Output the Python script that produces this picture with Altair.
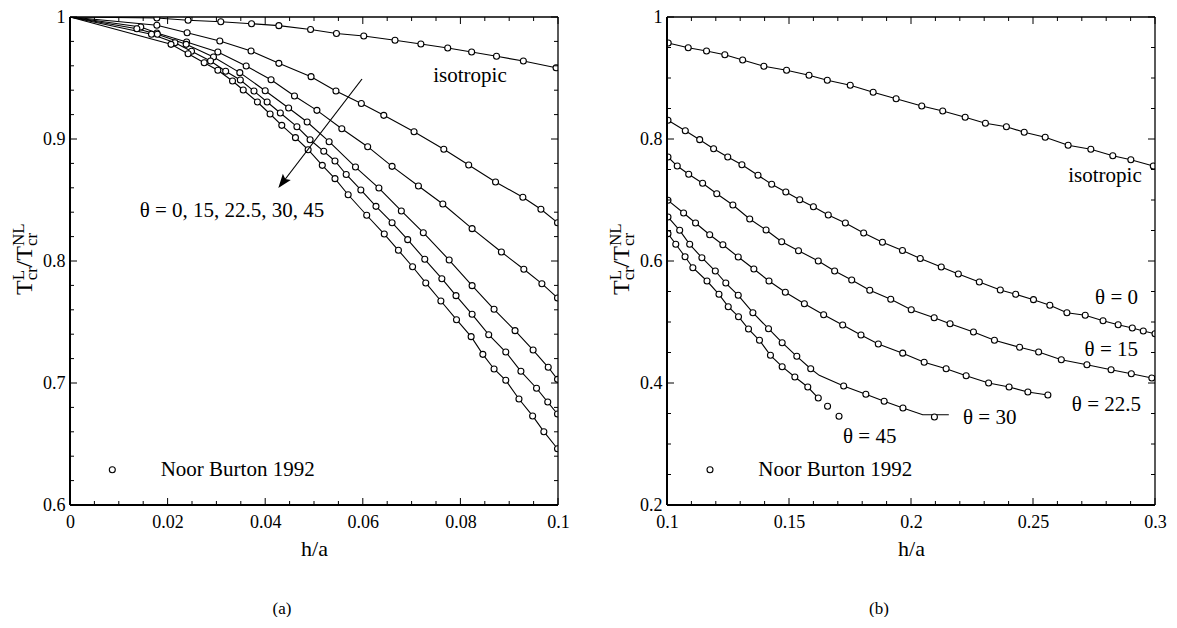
import altair as alt
import pandas as pd

FONT = "Liberation Serif"
W = 488
H = 488

# ---------------- panel (a): h/a from 0 to 0.1 ----------------
A_start_x = 0.0
A_start_y = 1.0
A_iso_x = [0.0178, 0.0242, 0.0309, 0.0372, 0.0428, 0.0493, 0.0546, 0.0602, 0.0666, 0.0719, 0.0774, 0.0823, 0.0874, 0.0929, 0.0996]
A_iso_y = [0.9992, 0.9973, 0.9961, 0.9945, 0.9929, 0.9898, 0.9865, 0.9844, 0.9809, 0.9779, 0.9746, 0.9713, 0.9678, 0.9639, 0.9584]
A_t0_x = [0.0178, 0.0240, 0.0307, 0.0371, 0.0428, 0.0494, 0.0545, 0.0597, 0.0643, 0.0705, 0.0766, 0.0817, 0.0872, 0.0928, 0.0965, 0.0999]
A_t0_y = [0.9932, 0.9871, 0.9803, 0.9721, 0.9620, 0.9511, 0.9393, 0.9291, 0.9194, 0.9060, 0.8916, 0.8787, 0.8648, 0.8522, 0.8424, 0.8314]
A_t15_x = [0.0145, 0.0178, 0.0239, 0.0303, 0.0361, 0.0412, 0.0460, 0.0506, 0.0557, 0.0610, 0.0660, 0.0714, 0.0764, 0.0824, 0.0884, 0.0930, 0.0967, 0.0999]
A_t15_y = [0.9918, 0.9869, 0.9795, 0.9713, 0.9598, 0.9486, 0.9352, 0.9235, 0.9084, 0.8937, 0.8776, 0.8615, 0.8467, 0.8265, 0.8074, 0.7932, 0.7814, 0.7697]
A_t225_x = [0.0137, 0.0179, 0.0238, 0.0294, 0.0348, 0.0400, 0.0448, 0.0486, 0.0531, 0.0585, 0.0633, 0.0679, 0.0724, 0.0777, 0.0824, 0.0869, 0.0912, 0.0949, 0.0980, 0.0999]
A_t225_y = [0.9904, 0.9858, 0.9776, 0.9672, 0.9544, 0.9396, 0.9254, 0.9139, 0.8978, 0.8770, 0.8598, 0.8410, 0.8232, 0.8008, 0.7798, 0.7604, 0.7429, 0.7270, 0.7129, 0.7030]
A_t30_x = [0.0167, 0.0215, 0.0249, 0.0288, 0.0319, 0.0349, 0.0377, 0.0404, 0.0431, 0.0465, 0.0492, 0.0520, 0.0543, 0.0566, 0.0596, 0.0627, 0.0660, 0.0692, 0.0727, 0.0762, 0.0791, 0.0824, 0.0858, 0.0893, 0.0924, 0.0956, 0.0979, 0.0999]
A_t30_y = [0.9858, 0.9789, 0.9719, 0.9639, 0.9555, 0.9484, 0.9393, 0.9303, 0.9213, 0.9101, 0.8994, 0.8899, 0.8820, 0.8709, 0.8582, 0.8448, 0.8314, 0.8175, 0.8014, 0.7855, 0.7716, 0.7563, 0.7396, 0.7254, 0.7096, 0.6957, 0.6844, 0.6746]
A_t45_x = [0.0207, 0.0242, 0.0275, 0.0303, 0.0333, 0.0355, 0.0384, 0.0410, 0.0434, 0.0462, 0.0488, 0.0517, 0.0543, 0.0570, 0.0608, 0.0644, 0.0673, 0.0702, 0.0729, 0.0760, 0.0792, 0.0822, 0.0846, 0.0869, 0.0893, 0.0920, 0.0948, 0.0971, 0.0999]
A_t45_y = [0.9776, 0.9699, 0.9625, 0.9563, 0.9475, 0.9402, 0.9303, 0.9205, 0.9112, 0.9011, 0.8912, 0.8784, 0.8675, 0.8543, 0.8375, 0.8221, 0.8088, 0.7953, 0.7820, 0.7672, 0.7519, 0.7380, 0.7235, 0.7115, 0.7022, 0.6869, 0.6730, 0.6601, 0.6461]

A_xmajor = [0, 0.02, 0.04, 0.06, 0.08, 0.1]
A_xminor = [0.005, 0.01, 0.015, 0.025, 0.03, 0.035, 0.045, 0.05, 0.055, 0.065, 0.07, 0.075, 0.085, 0.09, 0.095]
A_ymajor = [0.6, 0.7, 0.8, 0.9, 1.0]
A_yminor = [0.62, 0.64, 0.66, 0.68, 0.72, 0.74, 0.76, 0.78, 0.82, 0.84, 0.86, 0.88, 0.92, 0.94, 0.96, 0.98]

# ---------------- panel (b): h/a from 0.1 to 0.3 ----------------
B_iso_x = [0.1005, 0.1087, 0.1162, 0.1237, 0.1310, 0.1397, 0.1490, 0.1582, 0.1657, 0.1751, 0.1845, 0.1939, 0.2044, 0.2130, 0.2222, 0.2305, 0.2391, 0.2464, 0.2550, 0.2644, 0.2737, 0.2827, 0.2901, 0.2993]
B_iso_y = [0.9574, 0.9497, 0.9443, 0.9382, 0.9295, 0.9192, 0.9126, 0.9044, 0.8962, 0.8880, 0.8766, 0.8661, 0.8541, 0.8459, 0.8356, 0.8257, 0.8202, 0.8110, 0.8028, 0.7897, 0.7831, 0.7726, 0.7661, 0.7557]
B_t0_x = [0.1004, 0.1075, 0.1134, 0.1191, 0.1249, 0.1307, 0.1373, 0.1429, 0.1487, 0.1544, 0.1600, 0.1661, 0.1731, 0.1806, 0.1883, 0.1965, 0.2038, 0.2124, 0.2194, 0.2280, 0.2366, 0.2429, 0.2502, 0.2569, 0.2639, 0.2714, 0.2787, 0.2849, 0.2907, 0.2952, 0.3000]
B_t0_y = [0.8307, 0.8136, 0.7989, 0.7841, 0.7705, 0.7579, 0.7405, 0.7257, 0.7131, 0.7005, 0.6890, 0.6754, 0.6623, 0.6459, 0.6307, 0.6172, 0.6041, 0.5902, 0.5787, 0.5656, 0.5525, 0.5454, 0.5366, 0.5274, 0.5152, 0.5110, 0.5021, 0.4956, 0.4902, 0.4852, 0.4808]
B_t15_x = [0.1004, 0.1042, 0.1089, 0.1146, 0.1204, 0.1270, 0.1339, 0.1406, 0.1470, 0.1539, 0.1620, 0.1687, 0.1757, 0.1831, 0.1917, 0.2001, 0.2095, 0.2160, 0.2256, 0.2342, 0.2445, 0.2523, 0.2616, 0.2721, 0.2820, 0.2903, 0.2987]
B_t15_y = [0.7705, 0.7557, 0.7421, 0.7274, 0.7103, 0.6918, 0.6689, 0.6508, 0.6316, 0.6169, 0.6000, 0.5836, 0.5689, 0.5520, 0.5372, 0.5202, 0.5070, 0.4972, 0.4836, 0.4700, 0.4585, 0.4508, 0.4382, 0.4300, 0.4218, 0.4152, 0.4082]
B_t225_x = [0.1004, 0.1068, 0.1117, 0.1175, 0.1229, 0.1292, 0.1356, 0.1418, 0.1485, 0.1563, 0.1642, 0.1720, 0.1795, 0.1866, 0.1966, 0.2054, 0.2144, 0.2226, 0.2318, 0.2402, 0.2479, 0.2561]
B_t225_y = [0.6995, 0.6787, 0.6623, 0.6431, 0.6267, 0.6066, 0.5869, 0.5672, 0.5487, 0.5300, 0.5120, 0.4951, 0.4787, 0.4639, 0.4489, 0.4339, 0.4234, 0.4120, 0.4000, 0.3934, 0.3852, 0.3803]
B_t30_x = [0.1004, 0.1052, 0.1093, 0.1143, 0.1198, 0.1241, 0.1292, 0.1352, 0.1416, 0.1472, 0.1532, 0.1589, 0.1724, 0.1815, 0.1890, 0.1967, 0.2096]
B_t30_y = [0.6721, 0.6503, 0.6274, 0.6054, 0.5836, 0.5639, 0.5438, 0.5152, 0.4890, 0.4661, 0.4438, 0.4234, 0.3951, 0.3815, 0.3700, 0.3590, 0.3443]
B_t30_line_x = [0.1000, 0.1052, 0.1093, 0.1143, 0.1198, 0.1241, 0.1292, 0.1352, 0.1416, 0.1472, 0.1532, 0.1589, 0.1624, 0.1724, 0.1815, 0.1890, 0.1967, 0.2048, 0.2155]
B_t30_line_y = [0.6740, 0.6503, 0.6274, 0.6054, 0.5836, 0.5639, 0.5438, 0.5152, 0.4890, 0.4661, 0.4438, 0.4234, 0.4126, 0.3951, 0.3815, 0.3700, 0.3590, 0.3480, 0.3480]
B_t45_x = [0.1004, 0.1036, 0.1074, 0.1106, 0.1164, 0.1213, 0.1251, 0.1293, 0.1334, 0.1379, 0.1424, 0.1472, 0.1524, 0.1577, 0.1620, 0.1658, 0.1705]
B_t45_y = [0.6448, 0.6274, 0.6070, 0.5890, 0.5672, 0.5454, 0.5251, 0.5087, 0.4885, 0.4700, 0.4454, 0.4267, 0.4098, 0.3934, 0.3754, 0.3618, 0.3454]
B_t45_line_n = 15

B_xmajor = [0.1, 0.15, 0.2, 0.25, 0.3]
B_xminor = [0.11, 0.12, 0.13, 0.14, 0.16, 0.17, 0.18, 0.19, 0.21, 0.22, 0.23, 0.24, 0.26, 0.27, 0.28, 0.29]
B_ymajor = [0.2, 0.4, 0.6, 0.8, 1.0]
B_yminor = [0.25, 0.3, 0.35, 0.45, 0.5, 0.55, 0.65, 0.7, 0.75, 0.85, 0.9, 0.95]


def long_df(series):
    rows = []
    for name, xs, ys in series:
        for i, (x, y) in enumerate(zip(xs, ys)):
            rows.append({"curve": name, "i": i, "x": x, "y": y})
    return pd.DataFrame(rows)


A_points = long_df([
    ("isotropic", A_iso_x, A_iso_y), ("0", A_t0_x, A_t0_y), ("15", A_t15_x, A_t15_y),
    ("22.5", A_t225_x, A_t225_y), ("30", A_t30_x, A_t30_y), ("45", A_t45_x, A_t45_y)])
A_lines = long_df([
    ("isotropic", [A_start_x] + A_iso_x, [A_start_y] + A_iso_y),
    ("0", [A_start_x] + A_t0_x, [A_start_y] + A_t0_y),
    ("15", [A_start_x] + A_t15_x, [A_start_y] + A_t15_y),
    ("22.5", [A_start_x] + A_t225_x, [A_start_y] + A_t225_y),
    ("30", [A_start_x] + A_t30_x, [A_start_y] + A_t30_y),
    ("45", [A_start_x] + A_t45_x, [A_start_y] + A_t45_y)])

B_points = long_df([
    ("isotropic", B_iso_x, B_iso_y), ("0", B_t0_x, B_t0_y), ("15", B_t15_x, B_t15_y),
    ("22.5", B_t225_x, B_t225_y), ("30", B_t30_x, B_t30_y), ("45", B_t45_x, B_t45_y)])
B_lines = long_df([
    ("isotropic", [0.1] + B_iso_x, [0.958] + B_iso_y),
    ("0", B_t0_x, B_t0_y), ("15", B_t15_x, B_t15_y), ("22.5", B_t225_x, B_t225_y),
    ("30", B_t30_line_x, B_t30_line_y),
    ("45", B_t45_x[:B_t45_line_n], B_t45_y[:B_t45_line_n])])


def one_row():
    return pd.DataFrame({"k": [0]})


def text_at(txt, x, y, size=21, align="center", baseline="middle", angle=0, dx=0, dy=0):
    kw = dict(font=FONT, fontSize=size, align=align, baseline=baseline, color="black", dx=dx, dy=dy)
    if angle:
        kw["angle"] = angle
    return alt.Chart(pd.DataFrame({"t": [txt]})).mark_text(**kw).encode(
        x=alt.value(x), y=alt.value(y), text="t:N")


def seg(x0, y0, x1, y1, w=1.0):
    return alt.Chart(one_row()).mark_rule(color="black", strokeWidth=w).encode(
        x=alt.value(x0), y=alt.value(y0), x2=alt.value(x1), y2=alt.value(y1))


def ytitle(bx, by):
    big, small = 24, 17
    parts = [("T", 0, 0, big), ("L", 14.7, -8, small), ("cr", 14.7, 5, small),
             ("/T", 27.6, 0, big), ("NL", 48.9, -8, small), ("cr", 48.9, 5, small)]
    return [text_at(t, bx, by, size=s, align="left", baseline="alphabetic", angle=270, dx=d, dy=v)
            for t, d, v, s in parts]


def panel(points, lines, xdom, ydom, xmaj, xmin, ymaj, ymin, extra, caption):
    xs = alt.Scale(domain=xdom, nice=False, zero=False)
    ys = alt.Scale(domain=ydom, nice=False, zero=False)
    xax = alt.Axis(values=xmaj, format="~g", ticks=False, domain=False, grid=False,
                   labelFontSize=18, labelPadding=8, labelFlush=False, labelOverlap=False,
                   labelFont=FONT, titleFont=FONT, labelColor="black", titleColor="black",
                   title="h/a", titleFontSize=22, titleFontWeight="normal", titlePadding=7)
    yax = alt.Axis(values=ymaj, format="~g", ticks=False, domain=False, grid=False,
                   labelFontSize=18, labelPadding=5, labelOverlap=False,
                   labelFont=FONT, labelColor="black", title=None)

    def X(f):
        return alt.X(f + ":Q", scale=xs, axis=xax, title="h/a")

    def Y(f):
        return alt.Y(f + ":Q", scale=ys, axis=yax, title=None)

    line = alt.Chart(lines).mark_line(color="black", strokeWidth=1.1, clip=True).encode(
        x=X("x"), y=Y("y"), detail="curve:N", order="i:Q")
    pts = alt.Chart(points).mark_point(shape="circle", filled=True, fill="white", stroke="black",
                                       strokeWidth=1.1, size=36, opacity=1, clip=True).encode(
        x=X("x"), y=Y("y"))
    layers = [line, pts]

    def vt(vals, y0, y1):
        return alt.Chart(pd.DataFrame({"x": vals})).mark_rule(color="black", strokeWidth=1).encode(
            x=X("x"), y=alt.value(y0), y2=alt.value(y1))

    def ht(vals, x0, x1):
        return alt.Chart(pd.DataFrame({"y": vals})).mark_rule(color="black", strokeWidth=1).encode(
            y=Y("y"), x=alt.value(x0), x2=alt.value(x1))

    layers += [vt(xmaj, H, H - 7), vt(xmaj, 0, 7), vt(xmin, H, H - 4), vt(xmin, 0, 4),
               ht(ymaj, 0, 7), ht(ymaj, W, W - 7), ht(ymin, 0, 4), ht(ymin, W, W - 4)]
    # plot frame
    layers += [seg(0, 0, W, 0, 1.3), seg(0, H, W, H, 2), seg(0, 0, 0, H, 2), seg(W, 0, W, H, 1.3)]
    layers += ytitle(-38, 278)
    layers += extra
    layers.append(text_at(caption, 212, 592, size=17))
    return alt.layer(*layers).properties(width=W, height=H)


def legend(mx, my, tx):
    mk = alt.Chart(one_row()).mark_point(
        shape="circle", filled=True, fill="white", stroke="black", strokeWidth=1.1, size=36, opacity=1
    ).encode(x=alt.value(mx), y=alt.value(my))
    return [mk, text_at("Noor Burton 1992", tx, my, align="left")]


# arrow for panel (a)
arrow_line = seg(292, 62, 210, 169, 1.2)
arrow_head = alt.Chart(one_row()).mark_point(
    shape="M0,0L0.5,1.4L0,1.15L-0.5,1.4Z", filled=True, color="black", opacity=1, size=400, angle=217.5
).encode(x=alt.value(208.3), y=alt.value(171))

extra_a = [
    text_at("isotropic", 400, 59),
    text_at("θ = 0, 15, 22.5, 30, 45", 162, 194),
    arrow_line, arrow_head,
] + legend(42.3, 452.7, 90.7)

extra_b = [
    text_at("isotropic", 438, 159),
    text_at("θ = 0", 471, 281, align="right"),
    text_at("θ = 15", 471, 333, align="right"),
    text_at("θ = 22.5", 474, 388, align="right"),
    text_at("θ = 30", 296, 401, align="left"),
    text_at("θ = 45", 176, 420, align="left"),
] + legend(43, 452.7, 91.3)

left = panel(A_points, A_lines, [0, 0.1], [0.6, 1.0], A_xmajor, A_xminor, A_ymajor, A_yminor, extra_a, "(a)")
right = panel(B_points, B_lines, [0.1, 0.3], [0.2, 1.0], B_xmajor, B_xminor, B_ymajor, B_yminor, extra_b, "(b)")

chart = alt.hconcat(left, right, spacing=37).properties(
    padding={"left": 2, "top": 0, "right": 0, "bottom": 0},
    background="white"
).configure_view(strokeWidth=0)

chart.save("out.html", embed_options={"renderer": "svg", "actions": False})
